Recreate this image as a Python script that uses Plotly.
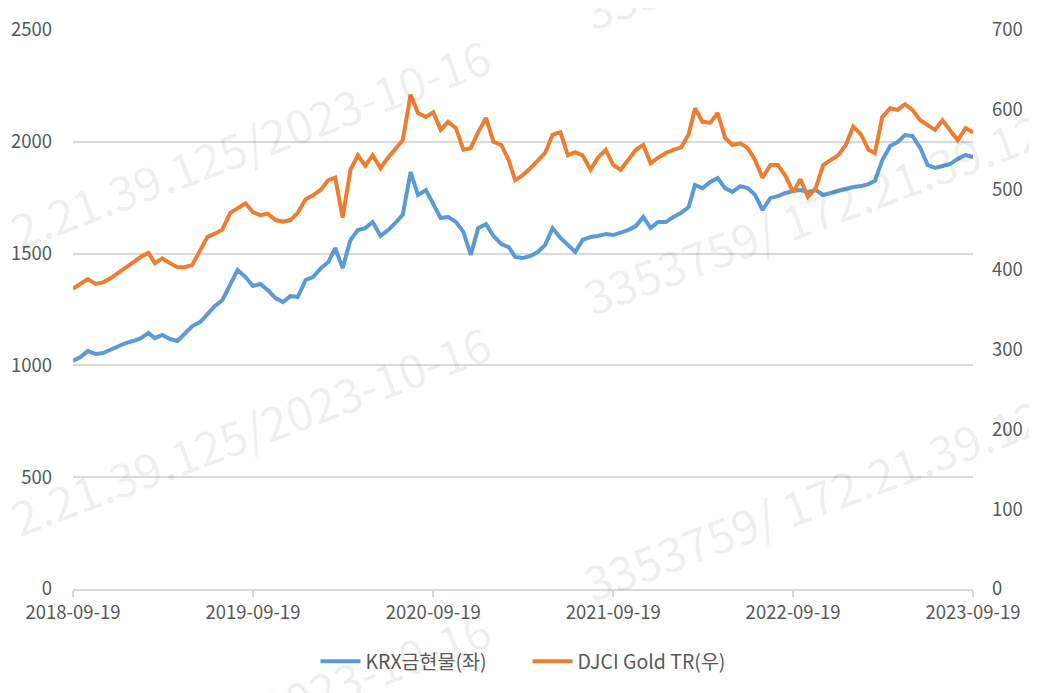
import plotly.graph_objects as go

# semi-monthly sample dates
dates = [
    "2018-09-19", "2018-10-04", "2018-10-19", "2018-11-04", "2018-11-19", "2018-12-04", "2018-12-19",
    "2019-01-04", "2019-01-19", "2019-02-04", "2019-02-19", "2019-03-04", "2019-03-19",
    "2019-04-04", "2019-04-19", "2019-05-04", "2019-05-19", "2019-06-04", "2019-06-19",
    "2019-07-04", "2019-07-19", "2019-08-04", "2019-08-19", "2019-09-04", "2019-09-19",
    "2019-10-04", "2019-10-19", "2019-11-04", "2019-11-19", "2019-12-04", "2019-12-19",
    "2020-01-04", "2020-01-19", "2020-02-04", "2020-02-19", "2020-03-04", "2020-03-19",
    "2020-04-04", "2020-04-19", "2020-05-04", "2020-05-19", "2020-06-04", "2020-06-19",
    "2020-07-04", "2020-07-19", "2020-08-04", "2020-08-19", "2020-09-04", "2020-09-19",
    "2020-10-04", "2020-10-19", "2020-11-04", "2020-11-19", "2020-12-04", "2020-12-19",
    "2021-01-04", "2021-01-19", "2021-02-04", "2021-02-19", "2021-03-04", "2021-03-19",
    "2021-04-04", "2021-04-19", "2021-05-04", "2021-05-19", "2021-06-04", "2021-06-19",
    "2021-07-04", "2021-07-19", "2021-08-04", "2021-08-19", "2021-09-04", "2021-09-19",
    "2021-10-04", "2021-10-19", "2021-11-04", "2021-11-19", "2021-12-04", "2021-12-19",
    "2022-01-04", "2022-01-19", "2022-02-04", "2022-02-19", "2022-03-04", "2022-03-19",
    "2022-04-04", "2022-04-19", "2022-05-04", "2022-05-19", "2022-06-04", "2022-06-19",
    "2022-07-04", "2022-07-19", "2022-08-04", "2022-08-19", "2022-09-04", "2022-09-19",
    "2022-10-04", "2022-10-19", "2022-11-04", "2022-11-19", "2022-12-04", "2022-12-19",
    "2023-01-04", "2023-01-19", "2023-02-04", "2023-02-19", "2023-03-04", "2023-03-19",
    "2023-04-04", "2023-04-19", "2023-05-04", "2023-05-19", "2023-06-04", "2023-06-19",
    "2023-07-04", "2023-07-19", "2023-08-04", "2023-08-19", "2023-09-04", "2023-09-19",
]

krx_gold = [
    1020, 1037, 1064, 1051, 1055, 1069, 1087, 1100, 1109, 1122, 1145, 1122, 1136,
    1118, 1109, 1145, 1176, 1194, 1230, 1266, 1292, 1360, 1427, 1395, 1355,
    1364, 1337, 1301, 1283, 1310, 1306, 1382, 1395, 1435, 1462, 1525, 1435,
    1561, 1605, 1614, 1641, 1579, 1605, 1637, 1673, 1865, 1762, 1784, 1717,
    1659, 1664, 1641, 1597, 1494, 1614, 1632, 1579, 1543, 1529, 1485, 1480,
    1489, 1507, 1539, 1614, 1570, 1539, 1507, 1561, 1574, 1579, 1588, 1583,
    1592, 1605, 1623, 1664, 1614, 1641, 1641, 1664, 1682, 1708, 1807, 1793,
    1820, 1838, 1793, 1776, 1802, 1793, 1762, 1695, 1749, 1757, 1771, 1780,
    1784, 1776, 1784, 1762, 1771, 1780, 1793, 1798, 1802, 1811, 1825, 1918,
    1981, 1999, 2030, 2026, 1972, 1896, 1883, 1892, 1901, 1923, 1941, 1932,
]

djci_gold_tr = [
    376, 382, 388, 382, 384, 389, 396, 403, 409, 416, 421, 408, 414,
    408, 403, 403, 406, 424, 441, 445, 450, 471, 477, 483, 472,
    468, 470, 462, 460, 462, 471, 488, 493, 500, 512, 515, 465,
    525, 543, 530, 543, 527, 540, 552, 562, 619, 596, 591, 597,
    575, 585, 577, 550, 552, 572, 590, 560, 556, 537, 512, 518,
    527, 537, 546, 569, 572, 543, 547, 543, 525, 540, 550, 531,
    525, 537, 550, 556, 533, 540, 546, 550, 553, 569, 602, 585,
    584, 596, 565, 556, 558, 552, 537, 515, 531, 531, 517, 497,
    513, 491, 502, 531, 537, 543, 556, 579, 569, 550, 546, 591,
    602, 600, 607, 600, 587, 581, 575, 587, 575, 562, 577, 572,
]

x_ticks = ["2018-09-19", "2019-09-19", "2020-09-19", "2021-09-19", "2022-09-19", "2023-09-19"]
left_ticks = [0, 500, 1000, 1500, 2000, 2500]
right_ticks = [0, 100, 200, 300, 400, 500, 600, 700]

series_names = ["KRX금현물(좌)", "DJCI Gold TR(우)"]
colors = ["#5B9BD5", "#ED7D31"]

FONT = "Noto Sans CJK KR, Noto Sans, sans-serif"
TXT = "#595959"
GRID = "#d9d9d9"

fig = go.Figure()
fig.add_trace(go.Scatter(x=dates, y=krx_gold, name=series_names[0], mode="lines",
                         line=dict(color=colors[0], width=4), yaxis="y"))
fig.add_trace(go.Scatter(x=dates, y=djci_gold_tr, name=series_names[1], mode="lines",
                         line=dict(color=colors[1], width=4), yaxis="y2"))

# watermarks (faint, rotated)
wm = "rgba(0,0,0,0.075)"
marks = [
    ("2.21.39.125/2023-10-16", 0.197, 0.800),
    ("2.21.39.125/2023-10-16", 0.197, 0.288),
    ("2.21.39.125/2023-10-16", 0.197, -0.224),
    ("3353759/ 172.21.39.125", 0.835, 0.682),
    ("3353759/ 172.21.39.125", 0.835, 1.193),
    ("3353759/ 172.21.39.125", 0.835, 0.170),
]
for t, xx, yy in marks:
    fig.add_annotation(text=t, x=xx, y=yy, xref="paper", yref="paper",
                       xanchor="center", yanchor="middle",
                       showarrow=False, textangle=-20.6,
                       font=dict(family=FONT, size=47, color=wm))

fig.update_layout(
    width=1029, height=685,
    margin=dict(l=65, r=64, t=22, b=104, autoexpand=False),
    paper_bgcolor="white", plot_bgcolor="white",
    font=dict(family=FONT, size=18.5, color=TXT),
    showlegend=True,
    legend=dict(orientation="h", x=0.505, xanchor="center", y=-0.13, yanchor="middle",
                font=dict(family=FONT, size=19.5, color=TXT), itemwidth=40,
                entrywidth=157, entrywidthmode="pixels",
                tracegroupgap=0),
    xaxis=dict(type="date", range=["2018-09-19", "2023-09-19"],
               tickvals=x_ticks, ticktext=x_ticks, automargin=False,
               showgrid=False, showline=True, linecolor=GRID, linewidth=1.5,
               ticks="outside", ticklen=6, tickcolor=GRID, tickwidth=1.5,
               tickfont=dict(family=FONT, size=18.5, color=TXT), zeroline=False),
    yaxis=dict(range=[0, 2500], tickvals=left_ticks, showgrid=True, gridcolor=GRID,
               gridwidth=1.5, zeroline=False, showline=False, ticks="",
               ticklabelstandoff=20, automargin=False,
               tickfont=dict(family=FONT, size=18.5, color=TXT)),
    yaxis2=dict(range=[0, 700], tickvals=right_ticks, overlaying="y", side="right",
                showgrid=False, zeroline=False, showline=False, ticks="",
                ticklabelstandoff=18, automargin=False,
                tickfont=dict(family=FONT, size=18.5, color=TXT)),
)

fig.write_html("out.html")
